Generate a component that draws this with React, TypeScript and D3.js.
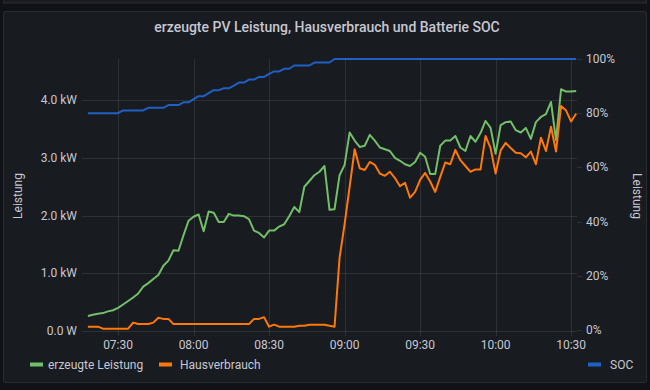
import React, { useEffect, useRef } from 'react';
import * as d3 from 'd3';

// 2-minute samples, 07:18 .. 10:32
const START = new Date(2023, 5, 1, 7, 18);
const STEP_MIN = 2;

// erzeugte Leistung (kW)
const pvPower = [
  0.26, 0.28, 0.30, 0.31, 0.34, 0.36, 0.40, 0.46, 0.52, 0.58,
  0.65, 0.77, 0.83, 0.90, 0.97, 1.13, 1.22, 1.40, 1.39, 1.66,
  1.91, 1.98, 2.02, 1.73, 2.07, 2.05, 1.89, 1.89, 2.03, 2.00,
  2.00, 1.99, 1.94, 1.74, 1.70, 1.62, 1.74, 1.74, 1.81, 1.85,
  1.99, 2.15, 2.06, 2.50, 2.60, 2.70, 2.76, 2.86, 2.10, 2.11,
  2.70, 2.88, 3.44, 3.30, 3.19, 3.21, 3.40, 3.30, 3.18, 3.15,
  3.12, 3.00, 2.95, 2.89, 2.86, 2.93, 3.09, 3.02, 2.72, 2.72,
  3.21, 3.30, 3.30, 3.38, 3.18, 3.12, 3.38, 3.28, 3.43, 3.64,
  3.52, 3.07, 3.57, 3.62, 3.63, 3.48, 3.44, 3.52, 3.33, 3.62,
  3.71, 3.76, 3.97, 3.31, 4.19, 4.15, 4.15, 4.16,
];

// Hausverbrauch (kW)
const housePower = [
  0.075, 0.075, 0.075, 0.04, 0.04, 0.04, 0.04, 0.04, 0.04, 0.145,
  0.12, 0.12, 0.12, 0.145, 0.23, 0.21, 0.21, 0.12, 0.12, 0.12,
  0.12, 0.12, 0.12, 0.12, 0.12, 0.12, 0.12, 0.12, 0.12, 0.12,
  0.12, 0.12, 0.12, 0.21, 0.21, 0.24, 0.075, 0.11, 0.075, 0.075,
  0.075, 0.075, 0.09, 0.09, 0.11, 0.11, 0.11, 0.11, 0.09, 0.075,
  1.27, 1.85, 2.50, 3.15, 2.82, 2.79, 2.93, 2.88, 2.73, 2.69,
  2.76, 2.65, 2.51, 2.57, 2.31, 2.41, 2.62, 2.74, 2.59, 2.41,
  2.67, 2.92, 2.89, 3.14, 2.96, 2.86, 2.76, 2.80, 2.80, 3.38,
  3.17, 2.73, 3.13, 3.26, 3.17, 3.09, 3.08, 3.01, 3.11, 2.89,
  3.35, 3.12, 3.54, 3.11, 3.90, 3.82, 3.63, 3.77,
];

// Batterie SOC (%)
const soc = [
  80, 80, 80, 80, 80, 80, 80, 81, 81, 81,
  81, 81, 82, 82, 82, 82, 83, 83, 83, 84,
  84, 85.2, 86.3, 86.3, 87.4, 88.5, 88.5, 89.2, 89.2, 90.2,
  91.3, 91.3, 92.4, 92.4, 93.4, 93.4, 94.5, 95.4, 95.4, 96.4,
  96.4, 97.6, 97.6, 97.6, 97.6, 98.7, 98.7, 98.7, 98.7, 100,
  100, 100, 100, 100, 100, 100, 100, 100, 100, 100,
  100, 100, 100, 100, 100, 100, 100, 100, 100, 100,
  100, 100, 100, 100, 100, 100, 100, 100, 100, 100,
  100, 100, 100, 100, 100, 100, 100, 100, 100, 100,
  100, 100, 100, 100, 100, 100, 100, 100,
];

const leftTicks = [0, 1, 2, 3, 4];
const rightTicks = [0, 20, 40, 60, 80, 100];

const series = [
  { name: 'erzeugte Leistung', values: pvPower, color: '#73bf69', axis: 'left' },
  { name: 'Hausverbrauch', values: housePower, color: '#ff780a', axis: 'left' },
  { name: 'SOC', values: soc, color: '#1f60c4', axis: 'right' },
];

const TEXT = '#c7c7d3';
const GRID = 'rgba(204, 204, 220, 0.12)';
const FONT = 'Roboto, "Noto Sans", sans-serif';

const App: React.FC = () => {
  const svgRef = useRef<SVGSVGElement>(null);

  useEffect(() => {
    if (!svgRef.current) return;
    const svg = d3.select(svgRef.current);
    svg.selectAll('*').remove();

    const width = 650;
    const height = 390;
    const plot = { left: 82, right: 577, top: 59, bottom: 331 };

    // Page + panel backgrounds
    svg.append('rect').attr('width', width).attr('height', height).attr('fill', '#111217');
    svg.append('rect')
      .attr('x', 3.5).attr('y', -10).attr('width', 643).attr('height', 13)
      .attr('fill', '#181b1f').attr('stroke', 'rgba(204,204,220,0.12)');
    svg.append('rect')
      .attr('x', 3.5).attr('y', 11.5).attr('width', 643).attr('height', 371)
      .attr('rx', 2)
      .attr('fill', '#181b1f').attr('stroke', 'rgba(204,204,220,0.12)');

    // Title
    svg.append('text')
      .attr('x', 327).attr('y', 32)
      .attr('text-anchor', 'middle')
      .attr('fill', TEXT)
      .style('font-family', FONT)
      .style('font-size', '14px')
      .style('font-weight', 500)
      .text('erzeugte PV Leistung, Hausverbrauch und Batterie SOC');

    const times = pvPower.map((_, i) => d3.timeMinute.offset(START, i * STEP_MIN));

    // Scales
    const x = d3.scaleTime()
      .domain([new Date(2023, 5, 1, 7, 15, 40), new Date(2023, 5, 1, 10, 32, 20)])
      .range([plot.left, plot.right]);
    const yLeft = d3.scaleLinear().domain([0, 4.714]).range([plot.bottom, plot.top]);
    const yRight = d3.scaleLinear().domain([0, 100]).range([plot.bottom - 1, plot.top]);

    const timeTicks = x.ticks(d3.timeMinute.every(30)!);
    const fmt = d3.timeFormat('%H:%M');

    // Grid
    const grid = svg.append('g');
    leftTicks.forEach(t => {
      grid.append('line')
        .attr('x1', plot.left).attr('x2', plot.right)
        .attr('y1', Math.round(yLeft(t)) + 0.5).attr('y2', Math.round(yLeft(t)) + 0.5)
        .attr('stroke', GRID);
    });
    timeTicks.forEach(t => {
      grid.append('line')
        .attr('x1', Math.round(x(t)) + 0.5).attr('x2', Math.round(x(t)) + 0.5)
        .attr('y1', plot.top).attr('y2', plot.bottom + 5)
        .attr('stroke', GRID);
    });
    rightTicks.forEach(t => {
      grid.append('line')
        .attr('x1', plot.right).attr('x2', plot.right + 5)
        .attr('y1', Math.round(yRight(t)) + 0.5).attr('y2', Math.round(yRight(t)) + 0.5)
        .attr('stroke', GRID);
    });

    // Axis labels
    const labels = svg.append('g')
      .attr('fill', TEXT)
      .style('font-family', FONT)
      .style('font-size', '12px');

    leftTicks.forEach(t => {
      labels.append('text')
        .attr('x', 77).attr('y', yLeft(t) + 4)
        .attr('text-anchor', 'end')
        .text(t === 0 ? '0.0 W' : `${d3.format('.1f')(t)} kW`);
    });
    rightTicks.forEach(t => {
      labels.append('text')
        .attr('x', 586).attr('y', yRight(t) + 4)
        .text(`${t}%`);
    });
    timeTicks.forEach(t => {
      labels.append('text')
        .attr('x', x(t)).attr('y', 349)
        .attr('text-anchor', 'middle')
        .text(fmt(t));
    });

    labels.append('text')
      .attr('transform', 'translate(22, 196) rotate(-90)')
      .attr('text-anchor', 'middle')
      .text('Leistung');
    labels.append('text')
      .attr('transform', 'translate(633, 196) rotate(90)')
      .attr('text-anchor', 'middle')
      .text('Leistung');

    // Series
    series.forEach(s => {
      const y = s.axis === 'left' ? yLeft : yRight;
      const line = d3.line<number>()
        .x((_, i) => x(times[i]))
        .y(v => y(v))
        .curve(d3.curveLinear);
      svg.append('path')
        .datum(s.values)
        .attr('d', line)
        .attr('fill', 'none')
        .attr('stroke', s.color)
        .attr('stroke-width', 2)
        .attr('stroke-linejoin', 'round');
    });

    // Legend
    const legendPos = [
      { sx: 30, tx: 48 },
      { sx: 159, tx: 180 },
      { sx: 588, tx: 610 },
    ];
    series.forEach((s, i) => {
      const p = legendPos[i];
      svg.append('rect')
        .attr('x', p.sx).attr('y', 362.5)
        .attr('width', 13).attr('height', 4)
        .attr('fill', s.color);
      labels.append('text')
        .attr('x', p.tx).attr('y', 369)
        .text(s.name);
    });
  }, []);

  return (
    <div style={{ position: 'fixed', left: 0, top: 0, width: 650, height: 390, background: '#111217' }}>
      <svg ref={svgRef} width={650} height={390} viewBox="0 0 650 390" style={{ display: 'block' }} />
    </div>
  );
};

export default App;
